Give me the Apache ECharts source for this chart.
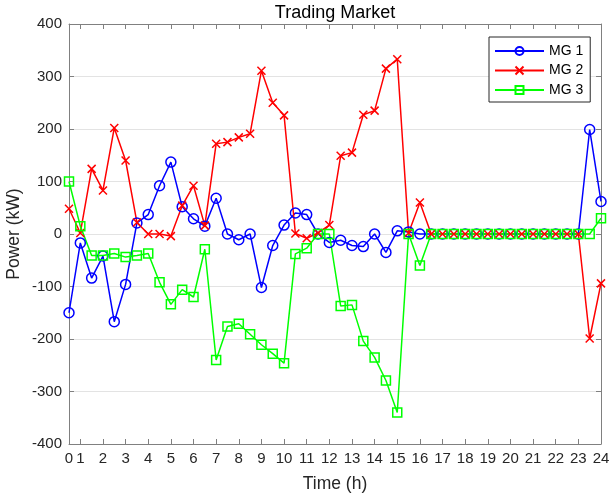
<!DOCTYPE html>
<html>
<head>
<meta charset="utf-8">
<script src="https://cdn.jsdelivr.net/npm/echarts@6/dist/echarts.min.js"></script>
<style>
html,body{margin:0;padding:0;background:#fff;}
#chart{width:610px;height:499px;}
</style>
</head>
<body>
<div id="chart"></div>
<script>
// Half-hour time slots (48 samples)
const timeSlots = [1,2,3,4,5,6,7,8,9,10,11,12,13,14,15,16,17,18,19,20,21,22,23,24,
  25,26,27,28,29,30,31,32,33,34,35,36,37,38,39,40,41,42,43,44,45,46,47,48];
// Tick label shown at a slot (slot index -> hour label)
const tickSlotIndex = [0,1,3,5,7,9,11,13,15,17,19,21,23,25,27,29,31,33,35,37,39,41,43,45,47];
const tickLabels = ['0','1','2','3','4','5','6','7','8','9','10','11','12','13','14','15','16','17','18','19','20','21','22','23','24'];

const mg1 = [-150,-17,-84,-42,-167,-96,21,37,92,137,52,29,15,68,0,-11,0,-102,-22,17,40,37,0,-16,
  -12,-22,-24,0,-35,6,4,0,0,0,0,0,0,0,0,0,0,0,0,0,0,0,199,62];
const mg2 = [48,2,124,83,202,140,22,0,0,-4,54,92,16,172,175,184,191,311,250,226,1,-8,2,17,
  149,155,227,235,315,333,2,60,0,0,0,0,0,0,0,0,0,0,0,0,0,0,-199,-94];
const mg3 = [100,15,-41,-41,-37,-44,-41,-37,-92,-134,-106,-120,-29,-240,-176,-171,-191,-211,-228,-246,-38,-27,0,0,
  -137,-135,-204,-235,-279,-340,0,-60,0,0,0,0,0,0,0,0,0,0,0,0,0,0,0,30];

const yTicks = [-400,-300,-200,-100,0,100,200,300,400];

const axisGray = '#808080';
const textCol = '#262626';
const FONT = '"Liberation Sans", Arial, Helvetica, sans-serif';

const showTick = (idx) => tickSlotIndex.indexOf(idx) >= 0;

const chart = echarts.init(document.getElementById('chart'), null, {renderer: 'canvas'});

function mkSeries(name, data, color, symbol, size) {
  return {
    name: name,
    type: 'line',
    data: data,
    xAxisIndex: 0,
    yAxisIndex: 0,
    symbol: symbol,
    symbolSize: size,
    symbolKeepAspect: true,
    showAllSymbol: true,
    animation: false,
    lineStyle: {color: color, width: 1.5},
    itemStyle: {color: 'rgba(0,0,0,0)', borderColor: color, borderWidth: 1.5},
    emphasis: {disabled: true}
  };
}

const option = {
  backgroundColor: '#fff',
  animation: false,
  title: {
    text: 'Trading Market',
    left: 335, top: 4, textAlign: 'center', padding: 0,
    textStyle: {fontFamily: FONT, fontSize: 18, fontWeight: 'normal', color: '#000'}
  },
  legend: {
    orient: 'vertical',
    left: 489, top: 37,
    padding: [7, 7, 5, 5],
    itemWidth: 49, itemHeight: 10, itemGap: 5.5, itemTextGap: 4,
    backgroundColor: '#fff',
    borderColor: '#262626', borderWidth: 1, borderRadius: 0,
    textStyle: {fontFamily: FONT, fontSize: 14, color: '#000', lineHeight: 14},
    data: ['MG 1', 'MG 2', 'MG 3']
  },
  grid: {left: 69, right: 9, top: 24, bottom: 55, containLabel: false, outerBoundsMode: 'none'},
  xAxis: [{
    type: 'category',
    data: timeSlots,
    boundaryGap: false,
    position: 'bottom',
    name: 'Time (h)',
    nameLocation: 'middle',
    nameGap: 31,
    nameMoveOverlap: false,
    nameTextStyle: {fontFamily: FONT, fontSize: 17.5, color: textCol},
    axisLine: {show: true, onZero: false, lineStyle: {color: axisGray, width: 1}},
    axisTick: {show: true, inside: true, length: 5, interval: (i) => showTick(i), lineStyle: {color: axisGray}},
    axisLabel: {
      interval: (i) => showTick(i),
      formatter: (v, i) => tickLabels[tickSlotIndex.indexOf(i)],
      fontFamily: FONT, fontSize: 15, color: textCol, margin: 7
    },
    splitLine: {show: false}
  }, {
    type: 'category',
    data: timeSlots,
    boundaryGap: false,
    position: 'top',
    axisLine: {show: true, onZero: false, lineStyle: {color: axisGray, width: 1}},
    axisTick: {show: true, inside: true, length: 5, interval: (i) => showTick(i), lineStyle: {color: axisGray}},
    axisLabel: {show: false},
    splitLine: {show: false}
  }],
  yAxis: [{
    type: 'value',
    min: yTicks[0], max: yTicks[yTicks.length - 1], interval: 100,
    position: 'left',
    name: 'Power (kW)',
    nameLocation: 'middle',
    nameGap: 46,
    nameMoveOverlap: false,
    nameTextStyle: {fontFamily: FONT, fontSize: 17.5, color: textCol},
    axisLine: {show: true, onZero: false, lineStyle: {color: axisGray, width: 1}},
    axisTick: {show: true, inside: true, length: 5, lineStyle: {color: axisGray}},
    axisLabel: {fontFamily: FONT, fontSize: 15, color: textCol, margin: 7},
    splitLine: {show: true, lineStyle: {color: '#e3e3e3', width: 1}}
  }, {
    type: 'value',
    min: yTicks[0], max: yTicks[yTicks.length - 1], interval: 100,
    position: 'right',
    axisLine: {show: true, onZero: false, lineStyle: {color: axisGray, width: 1}},
    axisTick: {show: true, inside: true, length: 5, lineStyle: {color: axisGray}},
    axisLabel: {show: false},
    splitLine: {show: false}
  }],
  series: [
    mkSeries('MG 1', mg1, '#0000ff', 'circle', 10),
    mkSeries('MG 2', mg2, '#ff0000', 'path://M0 0L10 10M10 0L0 10', 8),
    mkSeries('MG 3', mg3, '#00ff00', 'rect', 9)
  ]
};
chart.setOption(option);
</script>
</body>
</html>
